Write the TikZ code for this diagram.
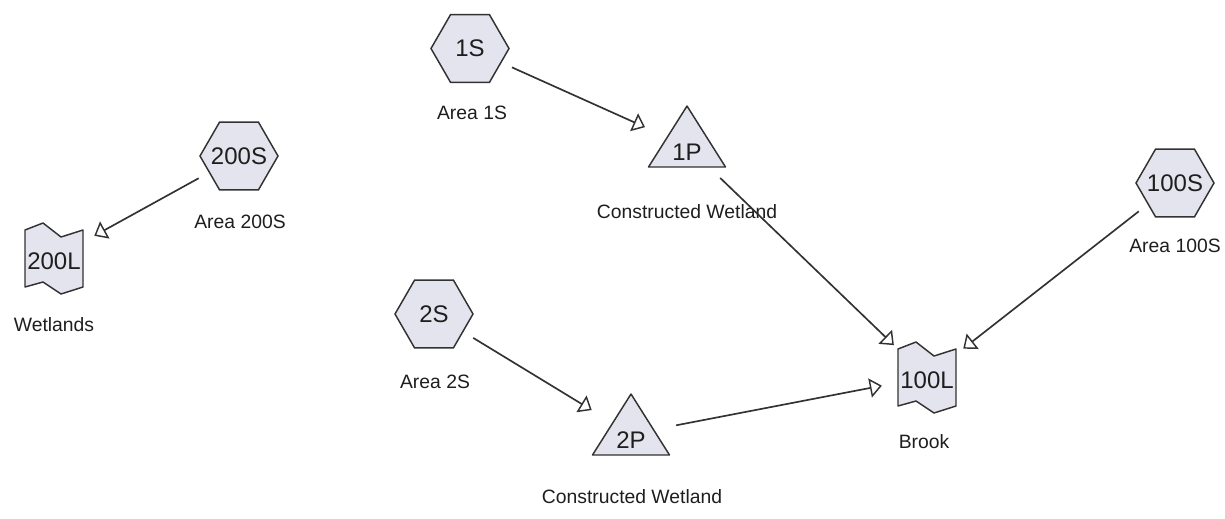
\documentclass[tikz,border=0pt]{standalone}
\usepackage{fontspec}
\setmainfont{Liberation Sans}
\usetikzlibrary{shapes.geometric,arrows.meta,calc}
\definecolor{shapefill}{RGB}{228,228,238}
\definecolor{edgecol}{RGB}{50,50,50}
\definecolor{ink}{RGB}{30,30,30}
\newcommand\zbox[1]{\makebox[0pt]{#1}}
\begin{document}
\begin{tikzpicture}[x=0.75pt,y=-0.75pt,
  hexnode/.style={regular polygon, regular polygon sides=6, minimum size=58.5pt, inner sep=0pt, outer sep=0pt,
    draw=edgecol, fill=shapefill, line width=1.1pt, text=ink, font=\fontsize{18}{20}\selectfont},
  anchornode/.style={inner sep=0pt, outer sep=0pt, minimum size=0pt},
  shp/.style={draw=edgecol, fill=shapefill, line width=1.1pt, line join=round},
  idtext/.style={text=ink, font=\fontsize{18}{20}\selectfont, inner sep=0pt},
  lbl/.style={text=ink, font=\fontsize{14.5}{16}\selectfont, inner sep=0pt},
  conn/.style={draw=edgecol, line width=1.25pt, shorten <=34.5pt, shorten >=34.5pt,
    -{Triangle[open, length=9pt, width=14.5pt, line width=1.1pt]}}
]
\useasboundingbox (0,0) rectangle (1225,518);

% catchment areas (hexagons)
\node[hexnode] (200S) at (239,156) {\zbox{200S}};
\node[hexnode] (1S) at (470,48.5) {\zbox{1S}};
\node[hexnode] (2S) at (434,314) {\zbox{2S}};
\node[hexnode] (100S) at (1175,183) {\zbox{100S}};

% ponds (triangles)
\node[anchornode] (1P) at (687,146) {};
\draw[shp, shift={(1P.center)}] (0,-40) -- (38.5,21) -- (-38.5,21) -- cycle;
\node[idtext] (1Ptext) at ($(1P.center)+(0,6)$) {1P};

\node[anchornode] (2P) at (631,434) {};
\draw[shp, shift={(2P.center)}] (0,-40) -- (38.5,21) -- (-38.5,21) -- cycle;
\node[idtext] (2Ptext) at ($(2P.center)+(0,6)$) {2P};

% links (wavy boxes)
\node[anchornode] (200L) at (54,258) {};
\draw[shp, shift={(200L.center)}] (-29,-28) -- (-11,-35) -- (7,-21) -- (29,-28) -- (29,29) -- (7,36) -- (-11,24) -- (-29,29) -- cycle;
\node[idtext] (200Ltext) at ($(200L.center)+(0,3)$) {200L};

\node[anchornode] (100L) at (927,377) {};
\draw[shp, shift={(100L.center)}] (-29,-28) -- (-11,-35) -- (7,-21) -- (29,-28) -- (29,29) -- (7,36) -- (-11,24) -- (-29,29) -- cycle;
\node[idtext] (100Ltext) at ($(100L.center)+(0,3)$) {100L};

% labels
\node[lbl] (l200S) at (240,222) {Area 200S};
\node[lbl] (l200L) at (54,325) {Wetlands};
\node[lbl] (l1S) at (472,113) {Area 1S};
\node[lbl] (l1P) at (687,212) {Constructed Wetland};
\node[lbl] (l2S) at (435,382) {Area 2S};
\node[lbl] (l2P) at (632,497) {Constructed Wetland};
\node[lbl] (l100L) at (924,442) {Brook};
\node[lbl] (l100S) at (1175,246) {Area 100S};

% connectors
\draw[conn] (200S.center) -- (200L.center);
\draw[conn] (1S.center) -- (1P.center);
\draw[conn] (1P.center) -- (100L.center);
\draw[conn] (2S.center) -- (2P.center);
\draw[conn] (2P.center) -- (100L.center);
\draw[conn] (100S.center) -- (100L.center);
\end{tikzpicture}
\end{document}
